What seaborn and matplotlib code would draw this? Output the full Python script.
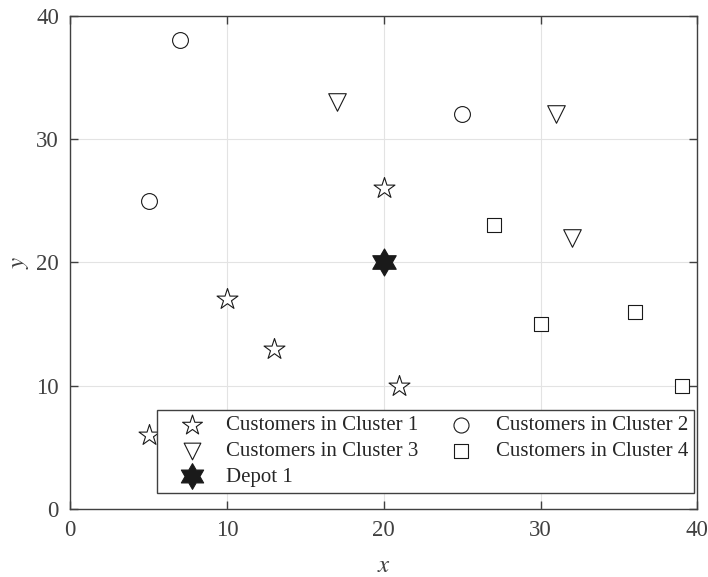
import numpy as np
import pandas as pd
import matplotlib
matplotlib.use("Agg")
import matplotlib.pyplot as plt
from matplotlib.path import Path
import seaborn as sns

# Customer coordinates per cluster
c1_x = [5, 10, 13, 20, 21]
c1_y = [6, 17, 13, 26, 10]
c2_x = [7, 5, 25]
c2_y = [38, 25, 32]
c3_x = [17, 31, 32]
c3_y = [33, 32, 22]
c4_x = [27, 30, 36, 39]
c4_y = [23, 15, 16, 10]
depot_x = [20]
depot_y = [20]

labels = ["Customers in Cluster 1", "Customers in Cluster 2",
          "Customers in Cluster 3", "Customers in Cluster 4", "Depot 1"]
ticks = [0, 10, 20, 30, 40]

sns.set_theme(style="white")
plt.rcParams["font.family"] = ["Liberation Serif", "DejaVu Serif"]
plt.rcParams["mathtext.fontset"] = "stix"

# six-pointed star (hexagram) marker
ang = np.deg2rad(90 + np.arange(12) * 30)
rad = np.where(np.arange(12) % 2 == 0, 1.0, 1 / np.sqrt(3))
verts = np.column_stack([rad * np.cos(ang), rad * np.sin(ang)])
verts = np.vstack([verts, verts[:1]])
hexagram = Path(verts, [Path.MOVETO] + [Path.LINETO] * 11 + [Path.CLOSEPOLY])

fig = plt.figure(figsize=(7.08, 5.77), dpi=100)
ax = fig.add_axes([0.099, 0.118, 0.886, 0.855])

groups = [
    (c1_x, c1_y, "*", 250, "white", labels[0]),
    (c2_x, c2_y, "o", 130, "white", labels[1]),
    (c3_x, c3_y, "v", 160, "white", labels[2]),
    (c4_x, c4_y, "s", 115, "white", labels[3]),
    (depot_x, depot_y, hexagram, 380, "#1a1a1a", labels[4]),
]
for gx, gy, mk, sz, fc, lab in groups:
    df = pd.DataFrame({"x": gx, "y": gy})
    sns.scatterplot(data=df, x="x", y="y", marker=mk, s=sz, facecolor=fc,
                    edgecolor="#1a1a1a", linewidth=0.8, label=lab, ax=ax,
                    zorder=3, legend=False)

ax.set_xlim(0, 40)
ax.set_ylim(0, 40)
ax.set_xticks(ticks)
ax.set_yticks(ticks)
ax.grid(True, color="#e3e3e3", linewidth=0.8, zorder=0)
ax.set_axisbelow(True)
for sp in ax.spines.values():
    sp.set_color("#404040")
    sp.set_linewidth(1.0)
ax.tick_params(direction="in", length=6, width=1.0, color="#404040",
               top=True, right=True, labelsize=16.5, labelcolor="#404040",
               bottom=True, left=True, pad=8)
ax.set_xlabel("$x$", fontsize=18, color="#404040", labelpad=10)
ax.set_ylabel("$y$", fontsize=18, color="#404040", labelpad=4)

handles, labs = ax.get_legend_handles_labels()
order = [0, 2, 4, 1, 3]
leg = ax.legend([handles[i] for i in order], [labs[i] for i in order],
                ncol=2, loc="lower right", bbox_to_anchor=(0.995, 0.0324),
                borderaxespad=0.0,
                fontsize=15, frameon=True, fancybox=False, framealpha=1,
                edgecolor="#404040", borderpad=0.3, labelspacing=0.29,
                handletextpad=0.29, columnspacing=0.72, handlelength=2.7,
                markerscale=0.95)
leg.get_frame().set_linewidth(1.0)
for t in leg.get_texts():
    t.set_color("#262626")

fig.savefig("out.png", dpi=100, facecolor="white")
